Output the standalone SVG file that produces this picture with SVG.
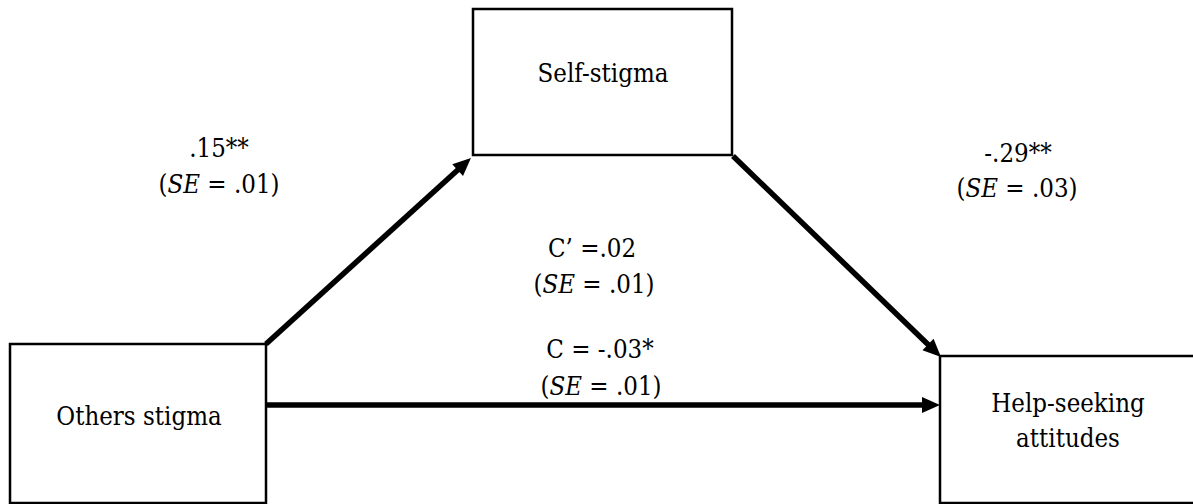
<svg xmlns="http://www.w3.org/2000/svg" width="1193" height="504" viewBox="0 0 1193 504">
<style>
.box{fill:#fff;stroke:#000;stroke-width:2.5}
.t{font-family:"DejaVu Serif","Liberation Serif",serif;font-size:26px;fill:#000;text-anchor:middle}
.i{font-style:italic}
.arr{stroke:#000;stroke-width:5.5;fill:none;marker-end:url(#ah)}
</style>
<defs>
<marker id="ah" markerUnits="userSpaceOnUse" markerWidth="19" markerHeight="17" refX="9" refY="8" orient="auto" overflow="visible">
<path d="M0,0 L18,8 L0,16 z" fill="#000"/>
</marker>
</defs>
<rect width="1193" height="504" fill="#fff"/>
<g id="connectors">
<line class="arr" x1="266" y1="344" x2="464.3" y2="164"/>
<line class="arr" x1="733" y1="156" x2="934.5" y2="350.7"/>
<line class="arr" x1="266" y1="405" x2="931" y2="405"/>
</g>
<g id="self-stigma">
<rect class="box" x="473" y="9" width="259" height="146"/>
<text class="t" transform="translate(603,82) scale(0.885,1)">Self-stigma</text>
</g>
<g id="others-stigma">
<rect class="box" x="10" y="344" width="256" height="159"/>
<text class="t" transform="translate(139,425) scale(0.885,1)">Others stigma</text>
</g>
<g id="help-seeking">
<rect class="box" x="940" y="356" width="270" height="147"/>
<text class="t" transform="translate(1068,412) scale(0.885,1)">Help-seeking</text>
<text class="t" transform="translate(1068,447) scale(0.885,1)">attitudes</text>
</g>
<g id="labels">
<text class="t" transform="translate(219,157) scale(0.885,1)">.15**</text>
<text class="t" transform="translate(219,193) scale(0.885,1)">(<tspan class="i">SE</tspan> = .01)</text>
<text class="t" transform="translate(1018,162) scale(0.885,1)">-.29**</text>
<text class="t" transform="translate(1017,197) scale(0.885,1)">(<tspan class="i">SE</tspan> = .03)</text>
<text class="t" transform="translate(592,257) scale(0.885,1)">C’ =.02</text>
<text class="t" transform="translate(594,293) scale(0.885,1)">(<tspan class="i">SE</tspan> = .01)</text>
<text class="t" transform="translate(600,358) scale(0.885,1)">C = -.03*</text>
<text class="t" transform="translate(601,395) scale(0.885,1)">(<tspan class="i">SE</tspan> = .01)</text>
</g>
</svg>
